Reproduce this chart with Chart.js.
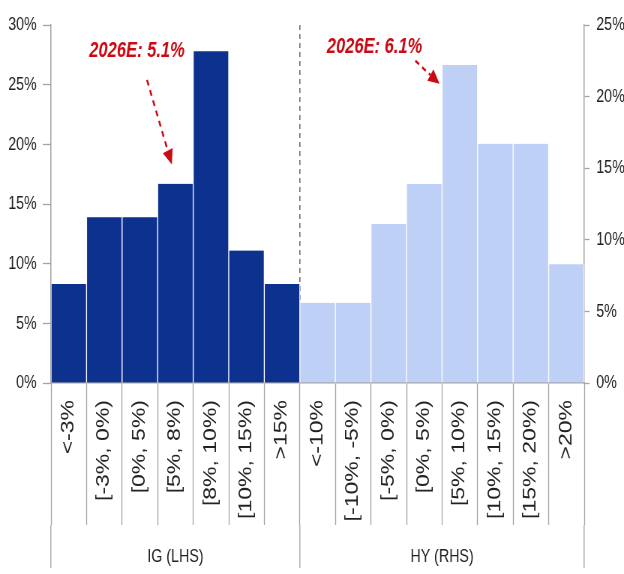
<!DOCTYPE html>
<html><head><meta charset="utf-8">
<script src="https://cdn.jsdelivr.net/npm/chart.js@4.4.1/dist/chart.umd.min.js"></script>
<style>
html,body{margin:0;padding:0;overflow:hidden;background:#fff;width:624px;height:574px;}
#wrap{width:624px;height:574px;overflow:hidden;position:relative;background:#fff;}
#c{position:absolute;left:0;top:0;transform:scaleX(0.75);transform-origin:0 0;}
</style></head><body>
<div id="wrap"><canvas id="c" width="832" height="574" style="width:832px;height:574px"></canvas></div>
<script>
// ---- data ----
const igCats = ['<-3%', '[-3%, 0%)', '[0%, 5%)', '[5%, 8%)', '[8%, 10%)', '[10%, 15%)', '>15%'];
const igVals = [8.3, 13.9, 13.9, 16.7, 27.8, 11.1, 8.3];
const hyCats = ['<-10%', '[-10%, -5%)', '[-5%, 0%)', '[0%, 5%)', '[5%, 10%)', '[10%, 15%)', '[15%, 20%)', '>20%'];
const hyVals = [5.6, 5.6, 11.1, 13.9, 22.2, 16.7, 16.7, 8.3];
const groupLabels = ['IG (LHS)', 'HY (RHS)'];
const leftTicks = [0, 5, 10, 15, 20, 25, 30];
const rightTicks = [0, 5, 10, 15, 20, 25];
const noteTexts = ['2026E: 5.1%', '2026E: 6.1%'];

// ---- derived ----
const labels = igCats.concat(hyCats);
const nIG = igCats.length, nHY = hyCats.length, N = labels.length;
const igData = igVals.concat(new Array(nHY).fill(null));
const hyData = new Array(nIG).fill(null).concat(hyVals);
const bounds = [-0.5, nIG - 0.5, N - 0.5];
const centers = [(nIG - 1) / 2, nIG + (nHY - 1) / 2];

const GREY = '#a3a3a3';
const TXT = '#222222';
const RED = '#cc0a14';
const FONT = '"Liberation Sans", Arial, Helvetica, sans-serif';

const notePlugin = {
  id: 'notes',
  afterDraw(chart) {
    const ctx = chart.ctx;
    const x = chart.scales.x;
    const specs = [
      {axis: 'y', t: [1.92, 27.8], f: [2.2, 25.4], a: [2.9, 18.3]},
      {axis: 'y1', t: [8.6, 23.5], f: [9.75, 22.5], a: [10.43, 20.9]}
    ];
    specs.forEach((s, i) => {
      const ys = chart.scales[s.axis];
      const P = p => [x.getPixelForValue(p[0]), ys.getPixelForValue(p[1])];
      const [tx, ty] = P(s.t), [fx, fy] = P(s.f), [ax, ay] = P(s.a);
      ctx.save();
      ctx.font = 'italic bold 22px ' + FONT;
      ctx.fillStyle = RED;
      ctx.textAlign = 'center';
      ctx.textBaseline = 'middle';
      ctx.fillText(noteTexts[i], tx, ty);
      const dx = ax - fx, dy = ay - fy, L = Math.hypot(dx, dy);
      const ux = dx / L, uy = dy / L;
      const head = 15, hw = 7;
      const bx = ax - ux * head, by = ay - uy * head;
      ctx.strokeStyle = RED;
      ctx.lineWidth = 2.5;
      ctx.setLineDash([6, 5]);
      ctx.beginPath();
      ctx.moveTo(fx, fy);
      ctx.lineTo(bx, by);
      ctx.stroke();
      ctx.setLineDash([]);
      ctx.beginPath();
      ctx.moveTo(ax, ay);
      ctx.lineTo(bx - uy * hw, by + ux * hw);
      ctx.lineTo(bx + uy * hw, by - ux * hw);
      ctx.closePath();
      ctx.fill();
      ctx.restore();
    });
  }
};

new Chart(document.getElementById('c'), {
  type: 'bar',
  data: {
    labels: labels,
    datasets: [
      {label: 'IG', data: igData, yAxisID: 'y', backgroundColor: '#0c318f',
       borderColor: '#ffffff', borderWidth: {left: 1, right: 1, top: 0, bottom: 0}, borderSkipped: false},
      {label: 'HY', data: hyData, yAxisID: 'y1', backgroundColor: '#bfd0f6',
       borderColor: '#ffffff', borderWidth: {left: 1, right: 1, top: 0, bottom: 0}, borderSkipped: false}
    ]
  },
  options: {
    responsive: false,
    animation: false,
    devicePixelRatio: 1,
    layout: {padding: {top: 25, left: 0, right: 0, bottom: 0}},
    plugins: {legend: {display: false}, tooltip: {enabled: false}},
    datasets: {bar: {grouped: false, categoryPercentage: 1, barPercentage: 1}},
    scales: {
      x: {
        type: 'category', position: 'bottom', weight: 0, offset: true,
        grid: {display: true, offset: true, drawOnChartArea: false, drawTicks: true,
               tickLength: 142, tickColor: GREY, tickWidth: 1.3},
        border: {display: true, color: GREY, width: 1.5},
        ticks: {autoSkip: false, minRotation: 90, maxRotation: 90, padding: -125,
                color: TXT, font: {family: FONT, size: 23}},
        afterFit(s) { s.height = 142; }
      },
      xg: {
        type: 'linear', position: 'bottom', weight: 1, min: -0.5, max: N - 0.5,
        offset: false, bounds: 'data',
        afterBuildTicks(s) { s.ticks = [bounds[0], centers[0], bounds[1], centers[1], bounds[2]].map(v => ({value: v})); },
        grid: {display: true, offset: false, drawOnChartArea: true, drawTicks: true, tickLength: 43,
               color: c => (c.tick && c.tick.value === bounds[1]) ? '#6e6e6e' : 'rgba(0,0,0,0)',
               lineWidth: 1.6,
               tickColor: c => (c.tick && bounds.includes(c.tick.value)) ? GREY : 'rgba(0,0,0,0)',
               tickWidth: 1.3},
        border: {display: false, dash: [5, 4]},
        ticks: {autoSkip: false, maxRotation: 0, minRotation: 0, padding: -23, color: TXT,
                font: {family: FONT, size: 19},
                callback: v => { const i = centers.indexOf(v); return i >= 0 ? groupLabels[i] : ''; }},
        afterFit(s) { s.height = 49; }
      },
      y: {
        type: 'linear', position: 'left', min: 0, max: 30,
        afterBuildTicks(s) { s.ticks = leftTicks.map(v => ({value: v})); },
        grid: {drawOnChartArea: false, drawTicks: true, tickLength: 11, tickColor: GREY, tickWidth: 1.3},
        border: {display: true, color: GREY, width: 1.5},
        ticks: {padding: 8, color: TXT, font: {family: FONT, size: 19}, callback: v => v + '%'},
        afterFit(s) { s.width = 68; }
      },
      y1: {
        type: 'linear', position: 'right', min: 0, max: 25,
        afterBuildTicks(s) { s.ticks = rightTicks.map(v => ({value: v})); },
        grid: {drawOnChartArea: false, drawTicks: true, tickLength: 7, tickColor: GREY, tickWidth: 1.3},
        border: {display: true, color: GREY, width: 1.5},
        ticks: {padding: 9, color: TXT, font: {family: FONT, size: 19}, callback: v => v + '%'},
        afterFit(s) { s.width = 53; }
      }
    }
  },
  plugins: [notePlugin]
});
</script>
</body></html>
